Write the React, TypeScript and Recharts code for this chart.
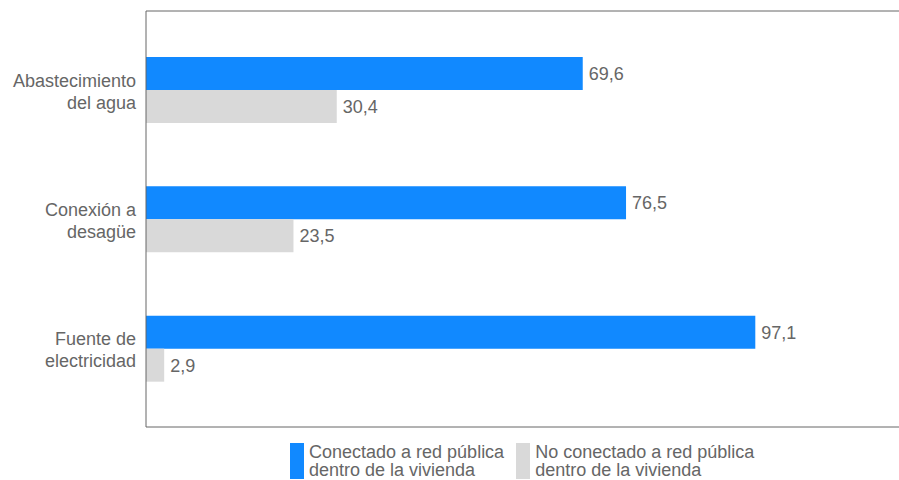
import { Bar, BarChart, LabelList, XAxis, YAxis } from "recharts";

const categories = ["Abastecimiento\ndel agua", "Conexión a\ndesagüe", "Fuente de\nelectricidad"];
const conectado = [69.6, 76.5, 97.1];
const noConectado = [30.4, 23.5, 2.9];
const seriesNames = [
  "Conectado a red pública\ndentro de la vivienda",
  "No conectado a red pública\ndentro de la vivienda",
];

const BLUE = "#1189FF";
const GRAY = "#D9D9D9";
const TEXT = "#666666";
const FONT = '"Liberation Sans", Arial, Helvetica, sans-serif';

const data = categories.map((name, i) => ({
  name,
  conectado: conectado[i],
  noConectado: noConectado[i],
}));

function comma(v: any): string {
  return Number(v).toFixed(1).replace(".", ",");
}

function CategoryTick(props: any) {
  const { x, y, payload } = props;
  const lines = String(payload.value).split("\n");
  return (
    <text x={x} y={y} textAnchor="end" fill={TEXT} fontSize={18} fontFamily={FONT}>
      {lines.map((line, i) => (
        <tspan key={i} x={x} y={y - 3 + i * 22}>
          {line}
        </tspan>
      ))}
    </text>
  );
}

function ChartLegend() {
  const colors = [BLUE, GRAY];
  return (
    <div
      style={{
        position: "absolute",
        left: 290,
        top: 443,
        display: "flex",
        fontFamily: FONT,
        fontSize: 18,
        color: TEXT,
      }}
    >
      {seriesNames.map((name, i) => (
        <div key={name} style={{ display: "flex", alignItems: "flex-start", marginRight: 12 }}>
          <div style={{ width: 14, height: 36, background: colors[i], marginRight: 5 }} />
          <div style={{ lineHeight: "18px", whiteSpace: "pre", marginTop: 0 }}>{name}</div>
        </div>
      ))}
    </div>
  );
}

export default function App() {
  return (
    <div style={{ position: "absolute", left: 0, top: 0, width: 899, height: 480, background: "#fff" }}>
      <BarChart
        width={899}
        height={480}
        data={data}
        layout="vertical"
        margin={{ top: 10, right: 0, bottom: 52, left: 0 }}
        barGap={0}
      >
        <XAxis
          type="number"
          domain={[0, 120]}
          tick={false}
          tickLine={false}
          height={1}
          axisLine={{ stroke: "#666", strokeWidth: 1 }}
        />
        <XAxis
          xAxisId="top"
          orientation="top"
          type="number"
          domain={[0, 120]}
          tick={false}
          tickLine={false}
          height={1}
          axisLine={{ stroke: "#666", strokeWidth: 1 }}
        />
        <YAxis
          type="category"
          dataKey="name"
          width={146}
          tickLine={false}
          tickMargin={4}
          padding={{ top: 14, bottom: 14 }}
          axisLine={{ stroke: "#666", strokeWidth: 1 }}
          tick={<CategoryTick />}
          interval={0}
        />
        <Bar dataKey="conectado" name={seriesNames[0]} fill={BLUE} barSize={33} isAnimationActive={false}>
          <LabelList
            dataKey="conectado"
            position="right"
            offset={6}
            formatter={comma}
            fill={TEXT}
            fontSize={18}
            fontFamily={FONT}
          />
        </Bar>
        <Bar dataKey="noConectado" name={seriesNames[1]} fill={GRAY} barSize={33} isAnimationActive={false}>
          <LabelList
            dataKey="noConectado"
            position="right"
            offset={6}
            formatter={comma}
            fill={TEXT}
            fontSize={18}
            fontFamily={FONT}
          />
        </Bar>
      </BarChart>
      <ChartLegend />
    </div>
  );
}
